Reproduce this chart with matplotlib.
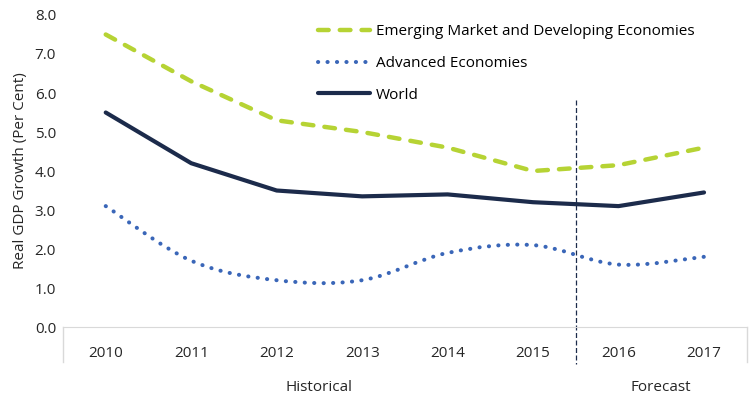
import numpy as np
import matplotlib.pyplot as plt
from matplotlib.path import Path
from matplotlib.patches import PathPatch

plt.rcParams['font.family'] = ['Open Sans', 'DejaVu Sans']

years = ['2010', '2011', '2012', '2013', '2014', '2015', '2016', '2017']
emde = [7.5, 6.3, 5.3, 5.0, 4.6, 4.0, 4.15, 4.6]
advanced = [3.1, 1.7, 1.2, 1.2, 1.9, 2.1, 1.6, 1.8]
world = [5.5, 4.2, 3.5, 3.35, 3.4, 3.2, 3.1, 3.45]

green = '#b6d334'
blue = '#3a66b8'
navy = '#1c2b4b'
fs = 11


def smooth_path(xs, ys):
    # Catmull-Rom style bezier, like Excel's smoothed line
    pts = np.column_stack([xs, ys]).astype(float)
    n = len(pts)
    verts = [pts[0]]
    codes = [Path.MOVETO]
    for i in range(n - 1):
        p0 = pts[i - 1] if i > 0 else pts[i]
        p1 = pts[i]
        p2 = pts[i + 1]
        p3 = pts[i + 2] if i + 2 < n else pts[i + 1]
        c1 = p1 + (p2 - p0) / 6
        c2 = p2 - (p3 - p1) / 6
        verts += [c1, c2, p2]
        codes += [Path.CURVE4] * 3
    return Path(verts, codes)


fig = plt.figure(figsize=(7.49, 4.01), dpi=100)
ax = fig.add_axes([0.0841, 0.1845, 0.9129, 0.7781])

x = np.arange(len(years))

ax.plot(x, emde, color=green, lw=3.2, linestyle=(0, (2.4, 2.5)),
        dash_capstyle='round', label='Emerging Market and Developing Economies')

adv_ls = (0, (0.05, 2.3))
ax.add_patch(PathPatch(smooth_path(x, advanced), fill=False, color=blue, lw=2.9,
                       linestyle=adv_ls, capstyle='round'))
ax.plot([], [], color=blue, lw=2.9, linestyle=adv_ls,
        dash_capstyle='round', label='Advanced Economies')

ax.plot(x, world, color=navy, lw=3, solid_capstyle='round', label='World')

# forecast divider
ax.plot([5.5, 5.5], [5.82, -0.95], color=navy, lw=0.9, linestyle=(0, (4, 2)),
        clip_on=False)
# category box edges
for xe in [-0.5, 7.5]:
    ax.plot([xe, xe], [0, -0.9], color='#d9d9d9', lw=1, clip_on=False)

ax.set_xlim(-0.5, 7.5)
ax.set_ylim(0, 8)
ax.set_yticks(np.arange(0, 8.1, 1))
ax.set_yticklabels(['%.1f' % v for v in np.arange(0, 8.1, 1)], fontsize=fs, color='#262626')
ax.set_xticks(x)
ax.set_xticklabels(years, fontsize=fs, color='#262626')
ax.tick_params(axis='both', length=0)
ax.tick_params(axis='x', pad=14)
ax.tick_params(axis='y', pad=5)

for s in ['top', 'right', 'left']:
    ax.spines[s].set_visible(False)
ax.spines['bottom'].set_color('#d9d9d9')

ax.set_ylabel('Real GDP Growth (Per Cent)', fontsize=fs, color='#262626', labelpad=5)

ax.text(2.5, -1.54, 'Historical', ha='center', va='center', fontsize=fs, color='#262626')
ax.text(6.5, -1.54, 'Forecast', ha='center', va='center', fontsize=fs, color='#262626')

ax.legend(loc='upper left', bbox_to_anchor=(0.424, 0.94), bbox_transform=fig.transFigure,
          frameon=False, fontsize=fs, handlelength=3.4, handletextpad=0.4,
          labelspacing=1.1, borderpad=0, borderaxespad=0)

fig.savefig('out.png', dpi=100)
